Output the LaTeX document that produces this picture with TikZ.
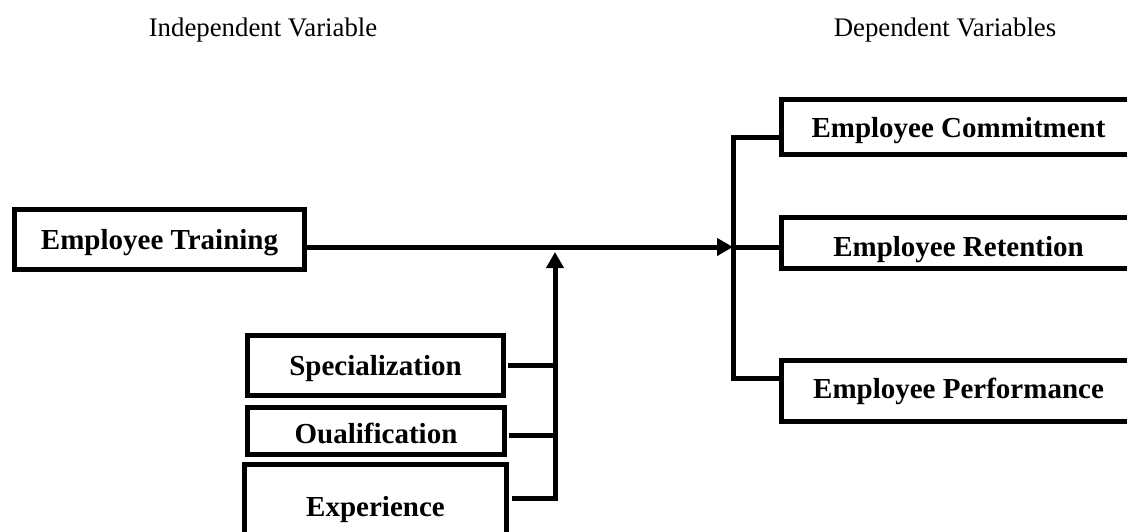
\documentclass[tikz,border=0pt]{standalone}
\usepackage{fontspec}
\setmainfont{Liberation Serif}
\usetikzlibrary{arrows.meta,positioning}

\begin{document}
\begin{tikzpicture}[
  x=1pt,y=-1pt,
  box/.style={draw,line width=5pt,inner sep=0pt,text height=26pt,text depth=6.3pt,
              font=\fontsize{29}{34}\selectfont\bfseries},
  head/.style={font=\fontsize{26.8}{30}\selectfont},
  link/.style={line width=5pt},
  arr/.style={line width=5pt,-{Triangle[length=16pt,width=17pt]}}
]
\useasboundingbox (0,0) rectangle (1127,531);
\clip (0,0) rectangle (1127,531);
% headings
\node[head](indep) at (263,30){Independent Variable};
\node[head](dep) at (945,30){Dependent Variables};
% independent side
\node[box,minimum width=290pt,minimum height=60pt](train) at (159.5,239.5){Employee Training};
\node[box,minimum width=256pt,minimum height=60pt](spec) at (375.5,365.5){Specialization};
\node[box,minimum width=257pt,minimum height=47pt,text height=32pt](qual) at (376,431){Oualification};
\node[box,minimum width=262pt,minimum height=90pt,text height=20pt](exper) at (375.5,509.5){Experience};
% dependent side
\node[box,minimum width=355pt,minimum height=55pt,text height=28pt](commit) at (958.5,127){Employee Commitment};
\node[box,minimum width=355pt,minimum height=51pt,text height=34pt](retain) at (958.5,243){Employee Retention};
\node[box,minimum width=355pt,minimum height=61pt,text height=22pt](perform) at (958.5,391){Employee Performance};
% junction points
\coordinate (hub) at (733,247);
\coordinate (top) at (733,137);
\coordinate (bot) at (733,378);
\coordinate (join) at (555,252);
\coordinate (bus) at (555,498);
\draw[arr](train.east |- hub)--(hub);
\draw[link](commit.west |- top)--(top)--(bot)--(perform.west |- bot);
\draw[link](hub)--(retain.west |- hub);
\draw[arr]([xshift=3pt]exper.east |- bus)--(bus)--(join);
\draw[link]([xshift=2pt]spec.east)--(spec.east -| bus);
\draw[link]([xshift=2pt]qual.east |- 0,435)--(bus |- 0,435);
\end{tikzpicture}
\end{document}
